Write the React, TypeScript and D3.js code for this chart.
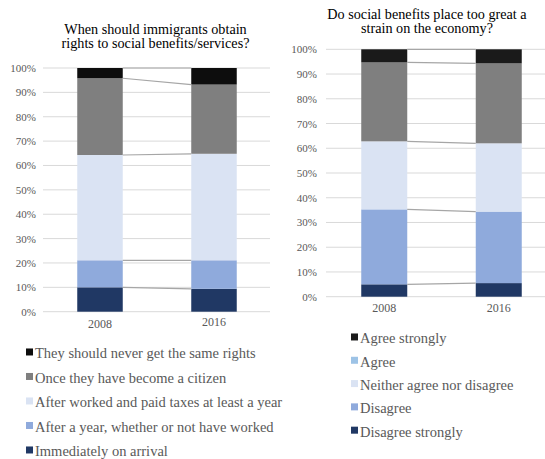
import React from "react";
import * as d3 from "d3";

const years = ["2008", "2016"];

const leftTitle = ["When should immigrants obtain", "rights to social benefits/services?"];
const leftSeries = [
  "Immediately on arrival",
  "After a year, whether or not have worked",
  "After worked and paid taxes at least a year",
  "Once they have become a citizen",
  "They should never get the same rights",
];
const leftValues2008 = [10.0, 11.1, 43.2, 31.5, 4.2];
const leftValues2016 = [9.4, 11.7, 43.7, 28.4, 6.8];

const rightTitle = ["Do social benefits place too great a", "strain on the economy?"];
const rightSeries = ["Disagree strongly", "Disagree", "Neither agree nor disagree", "Agree", "Agree strongly"];
const rightValues2008 = [5.0, 30.3, 27.5, 31.9, 5.3];
const rightValues2016 = [5.5, 28.9, 27.6, 32.3, 5.7];

const ticks = [0, 10, 20, 30, 40, 50, 60, 70, 80, 90, 100];

const leftColors = ["#203864", "#8faadc", "#dae3f3", "#7f7f7f", "#0d0d0d"];
const rightColors = ["#203864", "#8faadc", "#dae3f3", "#7f7f7f", "#1a1a1a"];
const rightLegendColors = ["#203864", "#8faadc", "#dae3f3", "#9dc3e6", "#1a1a1a"];

const FONT = "'Liberation Serif', 'Times New Roman', serif";

type PanelProps = {
  title: string[];
  titleX: number;
  titleY: number;
  titleDy: number;
  values: number[][];
  colors: string[];
  y0: number;
  y100: number;
  gridX0: number;
  gridX1: number;
  tickX: number;
  bandX0: number;
  bandX1: number;
  barW: number;
  catY: number[];
};

function Panel(p: PanelProps) {
  const y = d3.scaleLinear().domain([0, 100]).range([p.y0, p.y100]);
  const x = d3.scaleBand().domain(years).range([p.bandX0, p.bandX1]);
  const stacks = p.values.map((vals) => {
    let c = 0;
    return vals.map((v) => {
      const s = c;
      c += v;
      return [s, c];
    });
  });
  const cx = (yr: string) => (x(yr) as number) + x.bandwidth() / 2;
  return (
    <g>
      <text x={p.titleX} y={p.titleY} textAnchor="middle" fontFamily={FONT} fontSize={14.2} fill="#000">
        {p.title.map((t, i) => (
          <tspan key={i} x={p.titleX} dy={i === 0 ? 0 : p.titleDy}>
            {t}
          </tspan>
        ))}
      </text>
      {ticks.map((t) => (
        <g key={t}>
          <line x1={p.gridX0} x2={p.gridX1} y1={y(t)} y2={y(t)} stroke="#d9d9d9" strokeWidth={1} />
          <text x={p.tickX} y={y(t) + 4} textAnchor="end" fontFamily={FONT} fontSize={11} fill="#595959">
            {t}%
          </text>
        </g>
      ))}
      {years.map((yr, yi) =>
        stacks[yi].map(([a, b], si) => (
          <rect
            key={yr + si}
            x={cx(yr) - p.barW / 2}
            width={p.barW}
            y={y(b)}
            height={y(a) - y(b)}
            fill={p.colors[si]}
          />
        ))
      )}
      {stacks[0].map(([, b], si) => (
        <line
          key={"s" + si}
          x1={cx(years[0]) + p.barW / 2}
          x2={cx(years[1]) - p.barW / 2}
          y1={y(b)}
          y2={y(stacks[1][si][1])}
          stroke="#a6a6a6"
          strokeWidth={1.2}
        />
      ))}
      {years.map((yr, i) => (
        <text key={yr} x={cx(yr)} y={p.catY[i]} textAnchor="middle" fontFamily={FONT} fontSize={12} fill="#595959">
          {yr}
        </text>
      ))}
    </g>
  );
}

function Legend({ items, colors, x, y, dy, fontSize }: { items: string[]; colors: string[]; x: number; y: number; dy: number; fontSize: number }) {
  return (
    <g>
      {items.map((it, i) => (
        <g key={it} transform={`translate(${x},${y + i * dy})`}>
          <rect x={0} y={-fontSize * 0.45} width={7} height={7} fill={colors[i]} />
          <text x={9} y={0} fontFamily={FONT} fontSize={fontSize} fill="#595959" dominantBaseline="middle">
            {it}
          </text>
        </g>
      ))}
    </g>
  );
}

export default function App() {
  const leftRev = leftSeries.slice().reverse();
  const leftColRev = leftColors.slice().reverse();
  const rightRev = rightSeries.slice().reverse();
  const rightColRev = rightLegendColors.slice().reverse();
  return (
    <svg width={545} height={459} style={{ position: "absolute", left: 0, top: 0, background: "#fff" }}>
      <rect width={545} height={459} fill="#fff" />
      <Panel
        title={leftTitle}
        titleX={155.5}
        titleY={34}
        titleDy={13.5}
        values={[leftValues2008, leftValues2016]}
        colors={leftColors}
        y0={311.7}
        y100={68}
        gridX0={43}
        gridX1={270}
        tickX={36}
        bandX0={43}
        bandX1={271}
        barW={45.5}
        catY={[328, 326]}
      />
      <Panel
        title={rightTitle}
        titleX={427}
        titleY={19.3}
        titleDy={13.5}
        values={[rightValues2008, rightValues2016]}
        colors={rightColors}
        y0={296.7}
        y100={49.3}
        gridX0={326}
        gridX1={545}
        tickX={317}
        bandX0={327}
        bandX1={556}
        barW={46}
        catY={[312, 312]}
      />
      <Legend items={leftRev} colors={leftColRev} x={26} y={355} dy={24.5} fontSize={14.5} />
      <Legend items={rightRev} colors={rightColRev} x={351} y={340} dy={23.3} fontSize={14.5} />
    </svg>
  );
}
